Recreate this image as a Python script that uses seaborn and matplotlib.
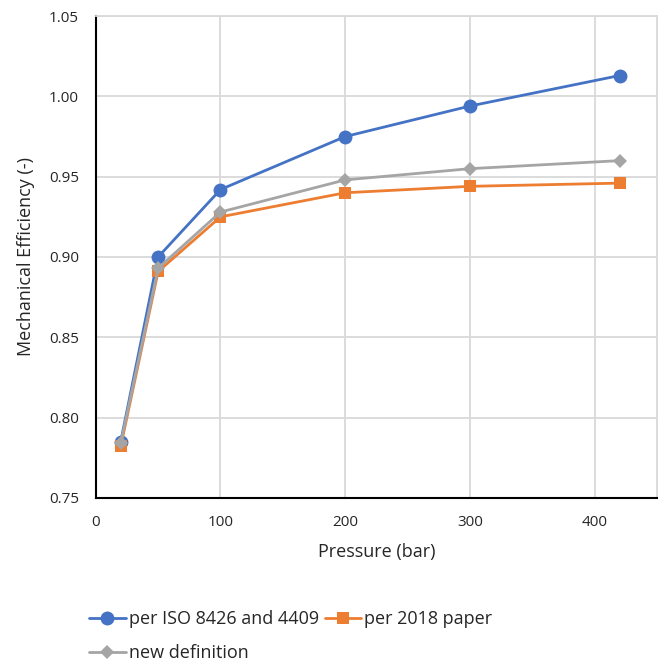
import numpy as np
import pandas as pd
import matplotlib
matplotlib.use("Agg")
import matplotlib.pyplot as plt
import seaborn as sns

# ===================== DATA =====================
pressure = [20, 50, 100, 200, 300, 420]
eff_iso = [0.785, 0.900, 0.942, 0.975, 0.994, 1.013]
eff_2018 = [0.782, 0.891, 0.925, 0.940, 0.944, 0.946]
eff_new = [0.784, 0.893, 0.928, 0.948, 0.955, 0.960]

labels = ["per ISO 8426 and 4409", "per 2018 paper", "new definition"]
colors = ["#4472C4", "#ED7D31", "#A5A5A5"]
markers = ["o", "s", "D"]
sizes = [10, 8, 7]

# ===================== PLOT =====================
sns.set_style("white")
plt.rcParams['font.family'] = ['Open Sans', 'DejaVu Sans']

fig = plt.figure(figsize=(6.65, 6.71), dpi=100)
ax = fig.add_axes([0.144, 0.258, 0.844, 0.718])

for y, lab, c, m, s in zip([eff_iso, eff_2018, eff_new], labels, colors, markers, sizes):
    df = pd.DataFrame({"pressure": pressure, "eff": y})
    sns.lineplot(data=df, x="pressure", y="eff", ax=ax, color=c, marker=m,
                 markersize=s, markeredgewidth=0, linewidth=2, label=lab)

ax.set_xlim(0, 450)
ax.set_ylim(0.75, 1.05)
ax.set_xticks([0, 100, 200, 300, 400])
ax.set_yticks(np.arange(0.75, 1.051, 0.05))
ax.yaxis.set_major_formatter(matplotlib.ticker.FormatStrFormatter('%.2f'))
ax.grid(True, color="#D9D9D9", linewidth=1.3)
ax.set_axisbelow(True)

for side in ["top", "right"]:
    ax.spines[side].set_color("#D9D9D9")
    ax.spines[side].set_linewidth(1.3)
for side in ["left", "bottom"]:
    ax.spines[side].set_color("black")
    ax.spines[side].set_linewidth(1.5)

ax.tick_params(axis="both", labelsize=11, colors="#262626", length=0, pad=12)
ax.set_xlabel("Pressure (bar)", fontsize=13, color="#262626", labelpad=10)
ax.set_ylabel("Mechanical Efficiency (-)", fontsize=13, color="#262626", labelpad=10)

# legend fills column-wise, reorder so it reads row-wise like the original
handles, labs = ax.get_legend_handles_labels()
ax.get_legend().remove()
order = [0, 2, 1]
fig.legend([handles[i] for i in order], [labs[i] for i in order],
           loc="upper left", bbox_to_anchor=(0.11, 0.115), ncol=2,
           frameon=False, fontsize=13, handlelength=2.0, handletextpad=0.2,
           columnspacing=0.3, labelspacing=0.9, labelcolor="#262626")

fig.savefig("out.png", dpi=100)
